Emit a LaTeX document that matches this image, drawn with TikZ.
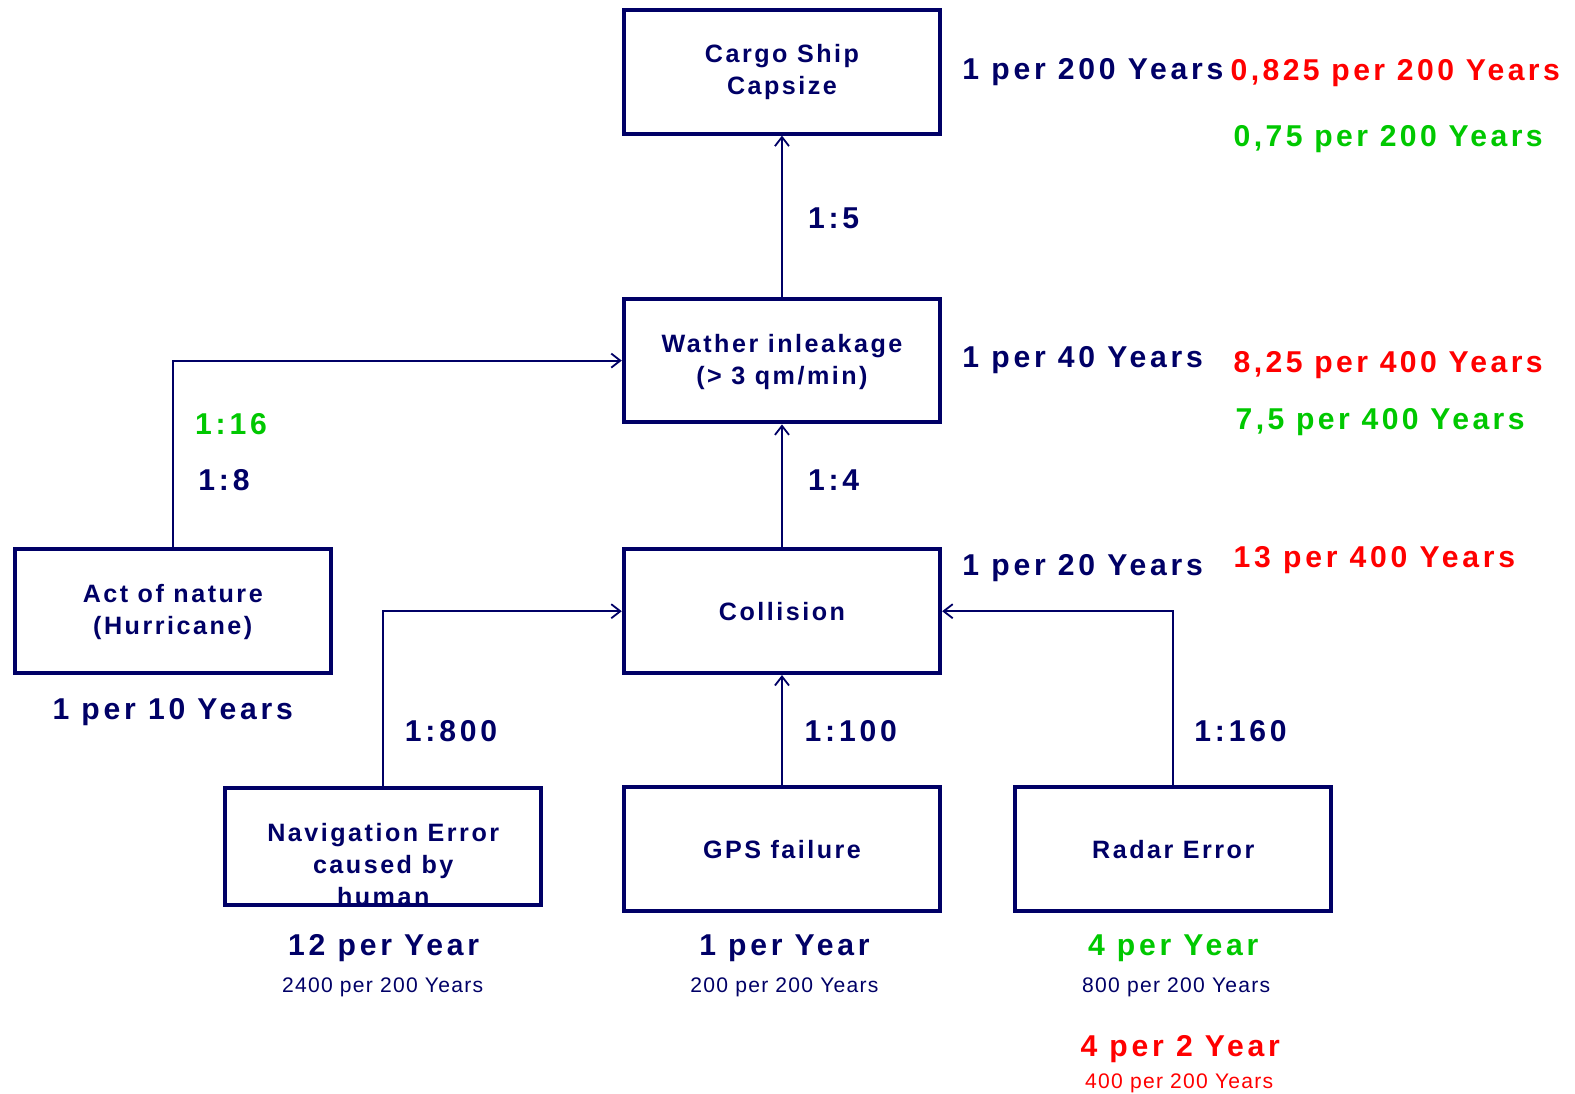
\documentclass[tikz,border=0pt]{standalone}
\usepackage{fontspec}
\usetikzlibrary{arrows.meta}
\setmainfont{Liberation Sans}
\newfontfamily\spaced[LetterSpace=10]{Liberation Sans}
\newfontfamily\spacedwide[LetterSpace=12.5]{Liberation Sans}
\newfontfamily\spacedmid[LetterSpace=11.3]{Liberation Sans}
\newfontfamily\spacedthin[LetterSpace=6]{Liberation Sans}
\definecolor{navy}{RGB}{0,0,102}
\definecolor{alarm}{RGB}{255,0,0}
\definecolor{okgreen}{RGB}{0,200,0}
\tikzset{
  box/.style={draw=navy, line width=4pt, fill=white, inner sep=0pt,
    minimum width=315pt, minimum height=123pt},
  boxtext/.style={text=navy, align=center,
    font=\spaced\bfseries\fontsize{25pt}{32pt}\selectfont},
  link/.style={draw=navy, line width=1.8pt,
    -{Straight Barb[length=9pt,width=14pt,line width=1.8pt]}},
  big/.style={font=\spacedwide\bfseries\fontsize{30pt}{36pt}\selectfont, inner sep=0pt},
  decimal/.style={font=\spacedmid\bfseries\fontsize{30pt}{36pt}\selectfont, inner sep=0pt},
  small/.style={font=\spacedthin\fontsize{21pt}{25pt}\selectfont, inner sep=0pt},
}
\begin{document}
\begin{tikzpicture}[x=1pt,y=-1pt]
\useasboundingbox (0,0) rectangle (1568,1089);

% event boxes
\node[box] (cargo) at (778.5,71.5) {};
\node[boxtext] at (778.5,72) {Cargo Ship\\Capsize};
\node[box] (wat) at (778.5,359) {};
\node[boxtext] at (778.5,360) {Wather inleakage\\(> 3 qm/min)};
\node[box] (col) at (778.5,608.5) {};
\node[boxtext] at (778.5,609) {Collision};
\node[box] (act) at (172,608.5) {};
\node[boxtext] at (172,609) {Act of nature\\(Hurricane)};
\node[boxtext] (navtext) at (381.5,861) {Navigation Error\\caused by\\human};
\node[box, fill=none, minimum height=117pt] (nav) at (381.5,842.5) {};
\node[box] (gps) at (778.5,845) {};
\node[boxtext] at (778.5,846) {GPS failure};
\node[box] (rad) at (1168,845) {};
\node[boxtext] at (1168,846) {Radar Error};

% causal links
\draw[link] (wat.north) -- (cargo.south);
\draw[link] (col.north) -- (wat.south);
\draw[link] (act.north) |- (wat.west);
\draw[link] (nav.north) |- (col.west);
\draw[link] (gps.north) -- (col.south);
\draw[link] (rad.north) |- (col.east);

% frequencies beside the upper events
\node[big, text=navy, anchor=base west] (f1) at (958,79) {1 per 200 Years};
\node[decimal, text=alarm, anchor=base west] (f1r) at (1225,80) {0,825 per 200 Years};
\node[decimal, text=okgreen, anchor=base west] (f1g) at (1228,146) {0,75 per 200 Years};
\node[big, text=navy, anchor=base west] (f2) at (958,366) {1 per 40 Years};
\node[decimal, text=alarm, anchor=base west] (f2r) at (1228,371) {8,25 per 400 Years};
\node[decimal, text=okgreen, anchor=base west] (f2g) at (1230,428) {7,5 per 400 Years};
\node[big, text=navy, anchor=base west] (f3) at (958,573) {1 per 20 Years};
\node[big, text=alarm, anchor=base west] (f3r) at (1228,565) {13 per 400 Years};

% link ratios
\node[big, text=navy, anchor=base] (r1) at (830,227) {1:5};
\node[big, text=navy, anchor=base] (r2) at (830,488) {1:4};
\node[big, text=okgreen, anchor=base] (r3) at (230,433) {1:16};
\node[big, text=navy, anchor=base] (r4) at (223,488) {1:8};
\node[big, text=navy, anchor=base] (r5) at (449,738) {1:800};
\node[big, text=navy, anchor=base] (r6) at (847,738) {1:100};
\node[big, text=navy, anchor=base] (r7) at (1235,738) {1:160};

% base event frequencies
\node[big, text=navy, anchor=base] (b0) at (172,716) {1 per 10 Years};
\node[big, text=navy, anchor=base] (b1) at (382,951) {12 per Year};
\node[small, text=navy, anchor=base] (b1s) at (381,988) {2400 per 200 Years};
\node[big, text=navy, anchor=base] (b2) at (781,951) {1 per Year};
\node[small, text=navy, anchor=base] (b2s) at (781,988) {200 per 200 Years};
\node[big, text=okgreen, anchor=base] (b3) at (1168,951) {4 per Year};
\node[small, text=navy, anchor=base] (b3s) at (1171,988) {800 per 200 Years};
\node[big, text=alarm, anchor=base] (b4) at (1175,1052) {4 per 2 Year};
\node[small, text=alarm, anchor=base] (b4s) at (1174,1084) {400 per 200 Years};
\end{tikzpicture}
\end{document}
